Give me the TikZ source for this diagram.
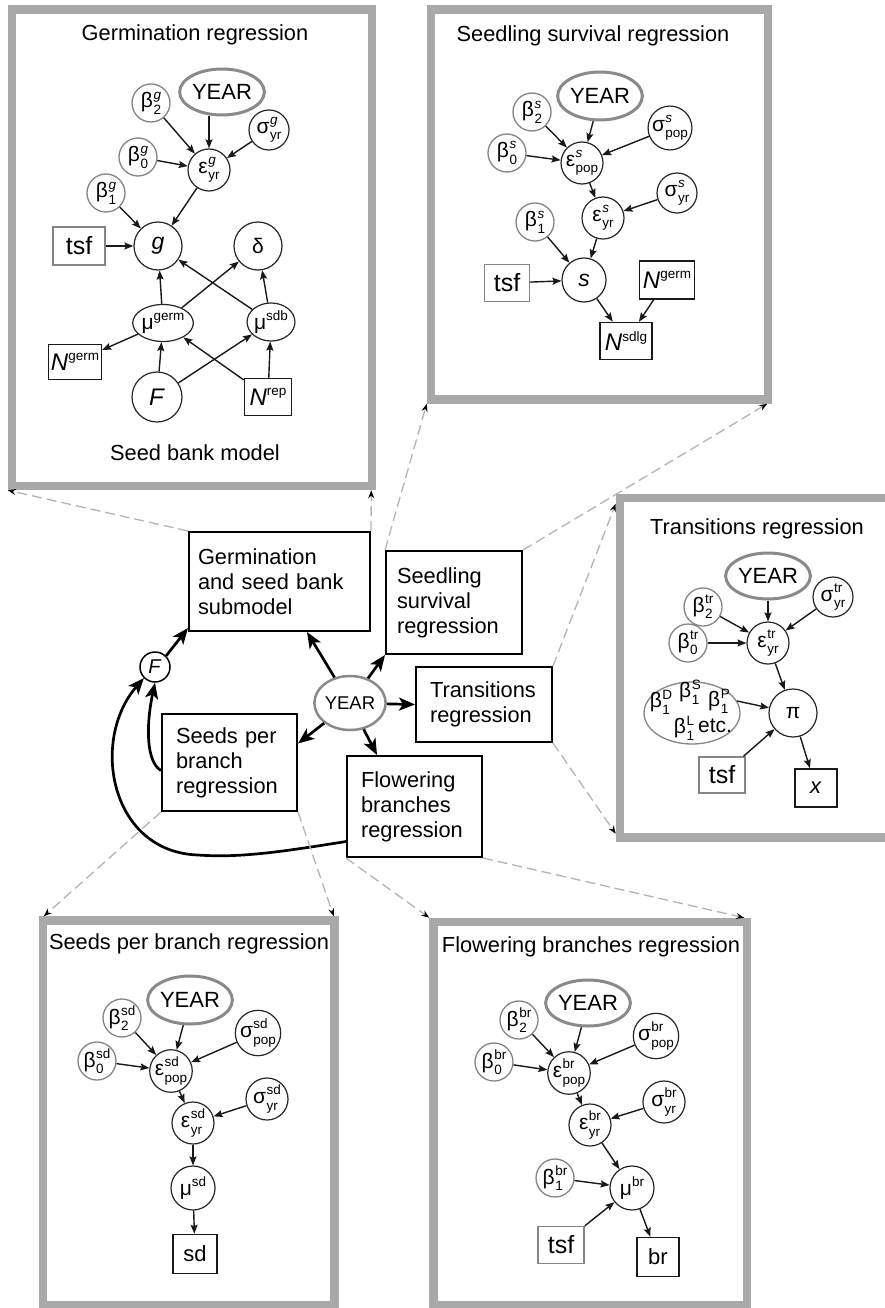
\documentclass[tikz,border=0pt]{standalone}
\usepackage{fontspec}
\setmainfont{Liberation Sans}
\usetikzlibrary{arrows.meta,calc,shapes.geometric}
\definecolor{frame}{HTML}{A9A9A9}
\definecolor{dgray}{HTML}{B4B4B4}
\definecolor{bgray}{HTML}{858585}
\definecolor{ygray}{HTML}{8A8A8A}
\newcommand\fs[2]{\fontsize{#1}{#2}\selectfont}
\newcommand\supf{\fontsize{13.5}{14}\selectfont}
\newcommand\gsym[3]{#1\kern0.5pt\setbox0\hbox{\supf #2}\setbox2\hbox{\supf #3}\dimen0=\wd0 \ifdim\wd2>\dimen0 \dimen0=\wd2 \fi\rlap{\raise0.42em\box0}\rlap{\lower0.3em\box2}\kern\dimen0 }
\newcommand\supr[1]{\raise0.42em\hbox{\supf #1}}
\newcommand\Nlab[1]{\textit{N}\raise0.4em\hbox{\supf #1}}
\begin{document}
\begin{tikzpicture}[x=1pt,y=-1pt,
 ttl/.style={inner sep=0pt, font=\fs{21.8}{25}},
 bcirc/.style={circle, draw=bgray, line width=1.3pt, minimum size=38pt, inner sep=0pt, font=\fs{21}{21}},
 ocirc/.style={circle, draw=black!85, line width=1.2pt, minimum size=40pt, inner sep=0pt, font=\fs{21}{21}},
 oell/.style={ellipse, draw=black!85, line width=1.2pt, inner sep=0pt, font=\fs{21}{21}},
 yell/.style={ellipse, draw=ygray, line width=3pt, minimum width=84pt, minimum height=46pt, inner sep=0pt, font=\fs{22}{22}},
 gbox/.style={rectangle, draw=bgray, line width=1.5pt, inner sep=0pt, font=\fs{25}{25}},
 kbox/.style={rectangle, draw=black!90, line width=1.5pt, inner sep=0pt, font=\fs{22}{22}},
 bigbox/.style={rectangle, draw=frame, line width=8.5pt, inner sep=0pt},
 midbox/.style={rectangle, draw=black, line width=2pt, align=left, font=\fs{21.8}{25}, inner ysep=0pt},
 arr/.style={-{Stealth[length=9pt,width=7pt,inset=1.5pt]}, line width=1.4pt, black!90},
 bigarr/.style={-{Stealth[length=16pt,width=13pt,inset=4pt]}, line width=2.7pt},
 dline/.style={draw=dgray, line width=1.3pt, dash pattern=on 10pt off 5pt, -{Stealth[length=8pt,width=6pt,color=black]}},
 gtext/.style={inner sep=0pt, font=\fs{21}{21}}]
\useasboundingbox (0,0) rectangle (885,1308);
\fill[white] (0,0) rectangle (885,1308);

% big frames
\node[bigbox, minimum width=360pt, minimum height=476.5pt] (B1) at (192,247.75) {};
\node[bigbox, minimum width=337pt, minimum height=390pt] (B2) at (599.5,204.5) {};
\node[bigbox, minimum width=290pt, minimum height=339.5pt] (B3) at (765,667.75) {};
\node[bigbox, minimum width=291.5pt, minimum height=384.5pt] (B4) at (188.75,1112.75) {};
\node[bigbox, minimum width=313.5pt, minimum height=383pt] (B5) at (590.25,1113.5) {};

% ---------- box 1
\node[ttl] (t1) at (195,35) {Germination regression};
\node[yell] (Y1) at (222,92) {YEAR};
\node[bcirc] (b21) at (151,103) {\gsym{β}{\textit{g}}{2}};
\node[bcirc] (b01) at (138,157) {\gsym{β}{\textit{g}}{0}};
\node[bcirc] (b11) at (106,193) {\gsym{β}{\textit{g}}{1}};
\node[ocirc] (s1) at (269,130) {\gsym{σ}{\textit{g}}{yr}};
\node[ocirc, minimum size=42pt] (e1) at (209,170) {\gsym{ε}{\textit{g}}{yr}};
\node[gbox, minimum width=52pt, minimum height=38pt] (tsf1) at (79,246) {tsf};
\node[ocirc, minimum size=48pt, font=\fs{23}{23}] (g1) at (158,246) {\textit{g}};
\node[ocirc, minimum size=48pt] (d1) at (258,246) {δ};
\node[oell, minimum width=52pt, minimum height=37pt] (mg1) at (163,323) {μ\supr{germ}};
\node[oell, minimum width=46pt, minimum height=38pt] (ms1) at (271,322) {μ\supr{sdb}};
\node[kbox, minimum width=53pt, minimum height=35pt, font=\fs{24}{24}] (ng1) at (75,362) {\Nlab{germ}};
\node[ocirc, minimum size=50pt, font=\fs{24}{24}] (F1) at (157,397) {\textit{F}};
\node[kbox, minimum width=47pt, minimum height=37pt, font=\fs{24}{24}] (nr1) at (268,397) {\Nlab{rep}};
\node[ttl] (sbm) at (195,453) {Seed bank model};
\draw[arr] (b21) -- (e1);
\draw[arr] (e1 |- Y1.south) -- (e1);
\draw[arr] (s1) -- (e1);
\draw[arr] (b01) -- (e1);
\draw[arr] (b11) -- (g1);
\draw[arr] (e1) -- (g1);
\draw[arr] (tsf1) -- (g1);
\draw[arr] (mg1) -- (g1);
\draw[arr] (mg1) -- (d1);
\draw[arr] (ms1) -- (g1);
\draw[arr] (ms1) -- (d1);
\draw[arr] (mg1) -- (ng1);
\draw[arr] (F1) -- (mg1);
\draw[arr] (F1) -- (ms1);
\draw[arr] (nr1) -- (mg1);
\draw[arr] (nr1) -- (ms1);

% ---------- box 2
\node[ttl] (t2) at (593,36) {Seedling survival regression};
\node[yell, minimum height=48pt] (Y2) at (600,96) {YEAR};
\node[bcirc] (b22) at (532,112) {\gsym{β}{\textit{s}}{2}};
\node[ocirc, minimum size=42pt] (sp2) at (670,128) {\gsym{σ}{\textit{s}}{pop}};
\node[bcirc] (b02) at (507,153) {\gsym{β}{\textit{s}}{0}};
\node[ocirc, minimum size=42pt] (ep2) at (582,163) {\gsym{ε}{\textit{s}}{pop}};
\node[ocirc] (sy2) at (677,193) {\gsym{σ}{\textit{s}}{yr}};
\node[ocirc, minimum size=42pt] (ey2) at (603,218) {\gsym{ε}{\textit{s}}{yr}};
\node[bcirc] (b12) at (535,222) {\gsym{β}{\textit{s}}{1}};
\node[ocirc, minimum size=44pt, font=\fs{23}{23}] (sv2) at (584,280) {\textit{s}};
\node[gbox, minimum width=45pt, minimum height=37pt] (tsf2) at (507,283) {tsf};
\node[kbox, minimum width=55pt, minimum height=38pt, font=\fs{24}{24}] (ng2) at (667,280) {\Nlab{germ}};
\node[kbox, minimum width=52pt, minimum height=37pt, font=\fs{24}{24}] (nsd2) at (626,341) {\Nlab{sdlg}};
\draw[arr] (b22) -- (ep2);
\draw[arr] (Y2) -- (ep2);
\draw[arr] (sp2) -- (ep2);
\draw[arr] (b02) -- (ep2);
\draw[arr] (ep2) -- (ey2);
\draw[arr] (sy2) -- (ey2);
\draw[arr] (ey2) -- (sv2);
\draw[arr] (b12) -- (sv2);
\draw[arr] (tsf2) -- (sv2);
\draw[arr] (sv2) -- (nsd2);
\draw[arr] (ng2) -- (nsd2);

% ---------- box 3
\node[ttl] (t3) at (757,529) {Transitions regression};
\node[yell] (Y3) at (768,576) {YEAR};
\node[bcirc] (b23) at (703,607) {\gsym{β}{tr}{2}};
\node[ocirc] (sy3) at (833,597) {\gsym{σ}{tr}{yr}};
\node[bcirc] (b03) at (688,643) {\gsym{β}{tr}{0}};
\node[ocirc, minimum size=42pt] (ey3) at (768,643) {\gsym{ε}{tr}{yr}};
\node[ellipse, draw=bgray, line width=1.3pt, minimum width=96pt, minimum height=62pt, inner sep=0pt] (bg3) at (692,713) {};
\node[gtext] (bD) at (661,702) {\gsym{β}{D}{1}};
\node[gtext] (bS) at (690,692) {\gsym{β}{S}{1}};
\node[gtext] (bP) at (719,701) {\gsym{β}{P}{1}};
\node[gtext] (bL) at (684,728) {\gsym{β}{L}{1}};
\node[gtext] (etc) at (715,726) {etc.};
\node[ocirc, minimum size=48pt] (pi3) at (793,713) {π};
\node[gbox, minimum width=46pt, minimum height=36pt] (tsf3) at (722,775) {tsf};
\node[kbox, minimum width=42pt, minimum height=38pt] (x3) at (816,788) {\textit{x}};
\draw[arr] (b23) -- (ey3);
\draw[arr] (Y3) -- (ey3);
\draw[arr] (sy3) -- (ey3);
\draw[arr] (b03) -- (ey3);
\draw[arr] (ey3) -- (pi3);
\draw[arr] (bg3.15) -- (pi3);
\draw[arr] (tsf3) -- (pi3);
\draw[arr] (pi3) -- (x3);

% ---------- box 4
\node[ttl] (t4) at (189,944) {Seeds per branch regression};
\node[yell, minimum height=48pt] (Y4) at (190,1000) {YEAR};
\node[bcirc] (b24) at (122,1018) {\gsym{β}{sd}{2}};
\node[ocirc, minimum size=42pt] (sp4) at (258,1033) {\gsym{σ}{sd}{pop}};
\node[bcirc] (b04) at (97,1061) {\gsym{β}{sd}{0}};
\node[ocirc, minimum size=42pt] (ep4) at (171,1071) {\gsym{ε}{sd}{pop}};
\node[ocirc, minimum size=42pt] (sy4) at (267,1099) {\gsym{σ}{sd}{yr}};
\node[ocirc, minimum size=42pt] (ey4) at (193,1123) {\gsym{ε}{sd}{yr}};
\node[ocirc, minimum size=44pt] (mu4) at (193,1188) {μ\supr{sd}};
\node[kbox, minimum width=44pt, minimum height=39pt] (sd4) at (195,1254) {sd};
\draw[arr] (b24) -- (ep4);
\draw[arr] (Y4) -- (ep4);
\draw[arr] (sp4) -- (ep4);
\draw[arr] (b04) -- (ep4);
\draw[arr] (ep4) -- (ey4);
\draw[arr] (sy4) -- (ey4);
\draw[arr] (ey4) -- (mu4);
\draw[arr] (mu4) -- (sd4);

% ---------- box 5
\node[ttl] (t5) at (591,947) {Flowering branches regression};
\node[yell] (Y5) at (588,1003) {YEAR};
\node[bcirc] (b25) at (519,1020) {\gsym{β}{br}{2}};
\node[ocirc, minimum size=42pt] (sp5) at (656,1036) {\gsym{σ}{br}{pop}};
\node[bcirc] (b05) at (494,1062) {\gsym{β}{br}{0}};
\node[ocirc, minimum size=42pt] (ep5) at (569,1073) {\gsym{ε}{br}{pop}};
\node[ocirc, minimum size=42pt] (sy5) at (664,1102) {\gsym{σ}{br}{yr}};
\node[ocirc, minimum size=42pt] (ey5) at (590,1125) {\gsym{ε}{br}{yr}};
\node[bcirc] (b15) at (555,1178) {\gsym{β}{br}{1}};
\node[ocirc, minimum size=44pt] (mu5) at (632,1188) {μ\supr{br}};
\node[gbox, minimum width=46pt, minimum height=37pt] (tsf5) at (561,1245) {tsf};
\node[kbox, minimum width=42pt, minimum height=39pt] (br5) at (658,1257) {br};
\draw[arr] (b25) -- (ep5);
\draw[arr] (Y5) -- (ep5);
\draw[arr] (sp5) -- (ep5);
\draw[arr] (b05) -- (ep5);
\draw[arr] (ep5) -- (ey5);
\draw[arr] (sy5) -- (ey5);
\draw[arr] (ey5) -- (mu5);
\draw[arr] (b15) -- (mu5);
\draw[arr] (tsf5) -- (mu5);
\draw[arr] (mu5) -- (br5);

% ---------- central overview
\node[midbox, text width=163pt, inner xsep=9pt, minimum height=99pt] (Gbox) at (279.5,581.5) {Germination\\and seed bank\\submodel};
\node[midbox, text width=114pt, inner xsep=11pt, minimum height=103pt] (Sbox) at (454,602.5) {Seedling\\survival\\regression};
\node[midbox, text width=108pt, inner xsep=14pt, minimum height=75pt] (Tbox) at (484,704.5) {Transitions\\regression};
\node[midbox, text width=107pt, inner xsep=14pt, minimum height=97pt] (SPbox) at (229.5,762.5) {Seeds per\\branch\\regression};
\node[midbox, text width=107pt, inner xsep=14pt, minimum height=101pt] (Fbox) at (414.5,806.5) {Flowering\\branches\\regression};
\node[ellipse, draw=ygray, line width=2.5pt, minimum width=64pt, minimum height=54pt, inner sep=0pt, font=\fs{18.5}{18.5}] (YEARc) at (350,703) {YEAR};
\node[circle, draw=black, line width=1.5pt, minimum size=30pt, inner sep=0pt, font=\fs{20}{20}] (F0) at (155,667) {\textit{F}};

\draw[bigarr] (YEARc) -- ($(Gbox.south west)+(119,0)$);
\draw[bigarr] (YEARc) -- (Sbox.south west);
\draw[bigarr] (YEARc) -- (Tbox.west);
\draw[bigarr] (YEARc) -- ($(SPbox.east)+(0,-19)$);
\draw[bigarr] (YEARc) -- ($(Fbox.north west)+(31,0)$);
\draw[bigarr] (F0.45) -- ($(Gbox.south west)+(0,-4)$);
\draw[bigarr] ($(SPbox.west)+(0,8)$) .. controls (146,762) and (146,725) .. (F0.south);
\draw[bigarr] ($(Fbox.west)+(0,35)$) .. controls (280,852) and (240,858) .. (198,855) .. controls (110,852) and (90,740) .. (F0.225);

% ---------- dashed zoom connectors
\draw[dline] (Gbox.north west) -- (B1.south west);
\draw[dline] (Gbox.north east) -- ($(B1.south east)+(-5,0)$);
\draw[dline] (Sbox.north west) -- (B2.south west);
\draw[dline] (Sbox.north east) -- ($(B2.south east)+(-5,0)$);
\draw[dline] (Tbox.north east) -- ($(B3.north west)+(0,10)$);
\draw[dline] (Tbox.south east) -- ($(B3.south west)+(0,-8)$);
\draw[dline] (SPbox.south west) -- ($(B4.north west)+(5,0)$);
\draw[dline] (SPbox.south east) -- ($(B4.north east)+(-5,0)$);
\draw[dline] (Fbox.south west) -- (B5.north west);
\draw[dline] (Fbox.south east) -- ($(B5.north east)+(-7,0)$);
\end{tikzpicture}
\end{document}
